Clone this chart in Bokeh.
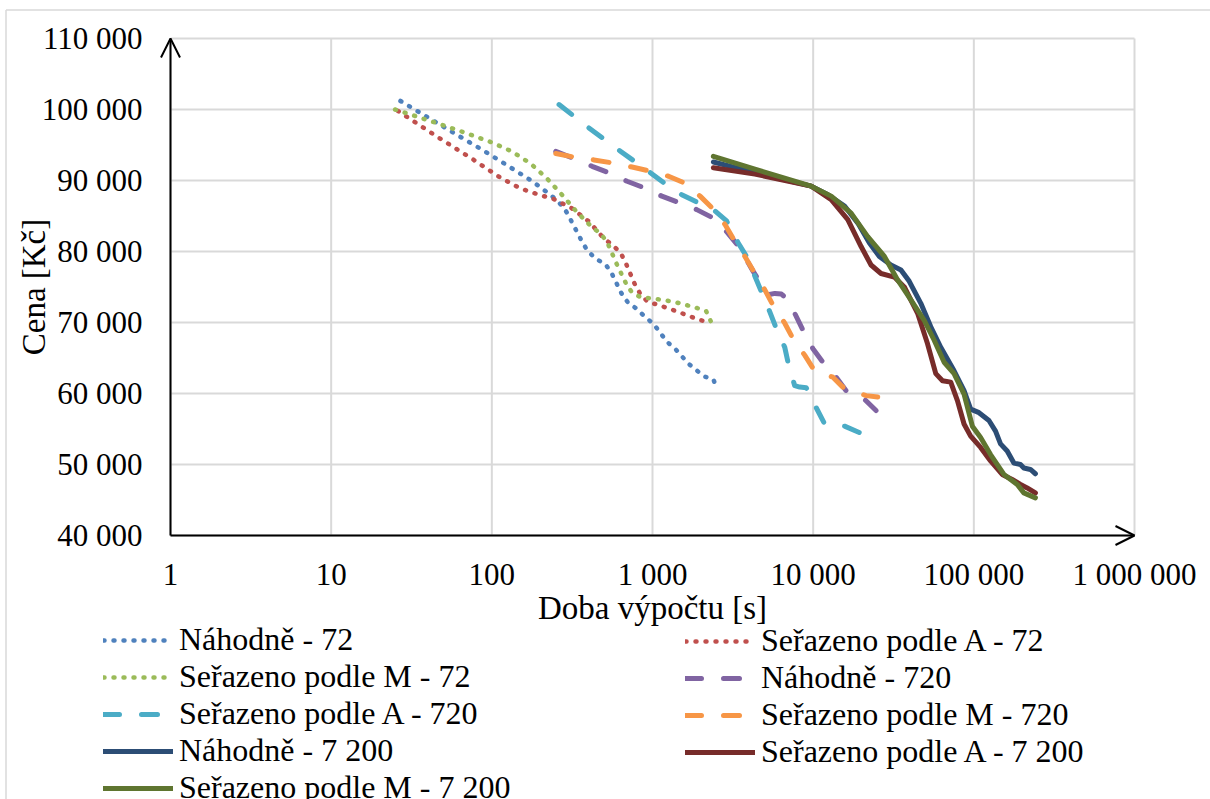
import math
from bokeh.plotting import figure
from bokeh.models import (Range1d, Arrow, OpenHead, Legend, LegendItem)
from bokeh.core.properties import value
from bokeh.embed import file_html
from bokeh.resources import INLINE

FONT = "Liberation Serif"
FS_TICK = "31px"
FS_TITLE = "33px"
FS_LEG = "32px"

# ---------------- data ----------------
x_ticks = [1, 10, 100, 1000, 10000, 100000, 1000000]
x_tick_labels = ["1", "10", "100", "1 000", "10 000", "100 000", "1 000 000"]
y_ticks = [40000, 50000, 60000, 70000, 80000, 90000, 100000, 110000]
y_tick_labels = ["40 000", "50 000", "60 000", "70 000", "80 000", "90 000", "100 000", "110 000"]
x_title = "Doba výpočtu [s]"
y_title = "Cena [Kč]"

labels = ["Náhodně - 72", "Seřazeno podle A - 72", "Seřazeno podle M - 72",
          "Náhodně - 720", "Seřazeno podle A - 720", "Seřazeno podle M - 720",
          "Náhodně - 7 200", "Seřazeno podle A - 7 200", "Seřazeno podle M - 7 200"]

x_nah_72 = [27, 61, 92, 138, 181, 234, 262, 291, 314, 364, 394, 442, 510, 558, 641, 704,
            801, 897, 1016, 1228, 1384, 1674, 2095, 2393, 2523]
y_nah_72 = [101200, 96400, 94000, 91500, 89800, 87900, 86900, 85600, 84200, 81400, 80100,
            79000, 78200, 76900, 74100, 72800, 71900, 70800, 69800, 67300, 66300, 64200,
            62400, 62000, 60500]

x_a_72 = [26, 44, 76, 113, 150, 202, 237, 314, 403, 500, 564, 634, 681, 772, 836, 933,
          1080, 1445, 1940, 2269]
y_a_72 = [99800, 96400, 93000, 90400, 88900, 87900, 87500, 86100, 84200, 81800, 80900,
          79800, 78400, 75500, 74100, 72900, 72500, 71500, 70400, 70000]

x_m_72 = [25, 40, 63, 99, 133, 174, 220, 273, 337, 421, 477, 525, 597, 684, 746, 856,
          1001, 1371, 1858, 2157, 2303]
y_m_72 = [100000, 98500, 97000, 95400, 94100, 92400, 90300, 88000, 85600, 83400, 82500,
          81200, 78300, 75500, 74200, 73500, 73400, 72900, 72100, 71600, 70200]

x_nah_720 = [250, 316, 421, 535, 694, 881, 1143, 1452, 1885, 2393, 2892, 3419, 4234, 5245,
             5772, 6344, 6657, 7678, 8645, 9970, 11500, 13900, 16040, 20850, 24620]
y_nah_720 = [94100, 93200, 92000, 91100, 89900, 89000, 87800, 86900, 85900, 84700, 82800,
             80800, 77200, 73900, 74100, 74000, 73600, 71300, 68900, 66300, 64400, 62300,
             60400, 59200, 57600]

x_a_720 = [262, 402, 625, 969, 1189, 1521, 2450, 2892, 3419, 3849, 4438, 5373, 5906, 6657,
           7049, 7678, 8247, 9064, 10450, 11790, 15680, 19410]
y_a_720 = [100700, 97400, 94200, 91100, 89600, 88000, 85700, 84300, 81200, 79300, 76000,
           71500, 69100, 66500, 63900, 61100, 60900, 60800, 58000, 55700, 55400, 54500]

x_m_720 = [250, 324, 432, 554, 746, 933, 1259, 1597, 1978, 2335, 2827, 3262, 3760, 4337,
           5003, 5636, 6657, 7496, 8856, 10210, 13270, 15300, 21340, 25230]
y_m_720 = [93800, 93300, 92900, 92500, 91900, 91400, 90600, 89600, 87800, 86200, 83800,
           81400, 79300, 76900, 74600, 72400, 69900, 67700, 65400, 63200, 62300, 60900,
           59700, 59500]

x_nah_7200 = [2393, 4337, 9727, 12360, 15680, 18960, 22400, 25830, 30490, 35180, 39640,
              46780, 53960, 62240, 75340, 86920, 95550, 107700, 124200, 136500, 146600,
              161300, 177500, 195100, 204800, 225100, 241700]
y_nah_7200 = [92600, 91100, 89200, 88000, 86400, 84000, 81200, 79300, 78100, 77400, 75800,
              72700, 69400, 66500, 63200, 60400, 57800, 57300, 56200, 54700, 52900, 51900,
              50200, 50000, 49500, 49300, 48700]

x_a_7200 = [2393, 4337, 9727, 12950, 16430, 19880, 22920, 26430, 32000, 36920, 44670,
            51510, 57970, 63800, 71800, 79050, 86920, 95550, 110200, 127100, 150200,
            173300, 195100, 214700, 241700]
y_a_7200 = [91800, 90900, 89200, 87300, 84500, 80700, 78100, 76900, 76400, 75000, 71300,
            67000, 62800, 61800, 61600, 59000, 55700, 54000, 52400, 50500, 48600, 47900,
            47200, 46700, 46000]

x_m_7200 = [2393, 4337, 9727, 12950, 17230, 21860, 27760, 33550, 40580, 49110, 56650,
            65340, 75340, 86920, 97900, 110200, 127100, 153900, 186200, 204800, 241700]
y_m_7200 = [93400, 91600, 89200, 87800, 85400, 82100, 79300, 76000, 73200, 70300, 67500,
            64400, 62800, 59900, 55400, 53800, 51400, 48600, 47200, 46000, 45300]

series_x = [x_nah_72, x_a_72, x_m_72, x_nah_720, x_a_720, x_m_720, x_nah_7200, x_a_7200, x_m_7200]
series_y = [y_nah_72, y_a_72, y_m_72, y_nah_720, y_a_720, y_m_720, y_nah_7200, y_a_7200, y_m_7200]
colors = ["#4F81BD", "#C0504D", "#9BBB59", "#8064A2", "#4BACC6", "#F79646",
          "#2C4D75", "#772C2A", "#5F7530"]
dashes = ["1 9"] * 3 + ["16 22"] * 3 + ["solid"] * 3
widths = [4.5, 4.5, 4.5, 5, 5, 5, 5, 5, 5]

# ---------------- layout (canvas px) ----------------
W, H = 1210, 799
AX_L, AX_R, AX_T, AX_B = 170, 1134, 38, 535      # where the axis box lies on the canvas
BORDER_L, BORDER_T = 5.5, 9.5                    # outer chart border (top/left edges)
decade = (AX_R - AX_L) / math.log10(x_ticks[-1] / x_ticks[0])
py = (AX_B - AX_T) / (y_ticks[-1] - y_ticks[0])
X_LO = x_ticks[0] * 10 ** (-AX_L / decade)
X_HI = x_ticks[-1] * 10 ** ((W - AX_R) / decade)
Y_HI = y_ticks[-1] + AX_T / py
Y_LO = y_ticks[0] - (H - AX_B) / py

p = figure(width=W, height=H, x_axis_type="log",
           x_range=Range1d(X_LO, X_HI), y_range=Range1d(Y_LO, Y_HI),
           x_axis_location=None, y_axis_location=None,
           output_backend="svg", toolbar_location=None,
           min_border=0, min_border_left=0, min_border_right=0,
           min_border_top=0, min_border_bottom=0)
p.outline_line_color = None
p.background_fill_color = "white"
p.border_fill_color = "white"
p.xgrid.visible = False
p.ygrid.visible = False

# outer chart border: only its top and left edges fall inside the picture
bx = X_LO * 10 ** (BORDER_L / decade)
by = Y_HI - BORDER_T / py
p.segment(x0=[bx, bx], y0=[by, by], x1=[X_HI * 2, bx], y1=[by, Y_LO - 5000],
          line_color="#d9d9d9", line_width=1.5)

# grid lines bounded to the axis extent
n_x, n_y = len(x_ticks), len(y_ticks)
p.segment(x0=x_ticks, x1=x_ticks, y0=[y_ticks[0]] * n_x, y1=[y_ticks[-1]] * n_x,
          line_color="#d9d9d9", line_width=2)
p.segment(x0=[x_ticks[0]] * n_y, x1=[x_ticks[-1]] * n_y, y0=y_ticks, y1=y_ticks,
          line_color="#d9d9d9", line_width=2)

renderers = []
for xs, ys, c, d, w in zip(series_x, series_y, colors, dashes, widths):
    r = p.line(xs, ys, line_color=c, line_width=w, line_dash=d,
               line_cap="round", line_join="round")
    renderers.append(r)

# axes with arrow heads
p.add_layout(Arrow(x_start=x_ticks[0], y_start=y_ticks[0], x_end=x_ticks[-1], y_end=y_ticks[0],
                   line_color="black", line_width=2, start=None,
                   end=OpenHead(size=19, line_color="black", line_width=2)))
p.add_layout(Arrow(x_start=x_ticks[0], y_start=y_ticks[0], x_end=x_ticks[0], y_end=y_ticks[-1],
                   line_color="black", line_width=2, start=None,
                   end=OpenHead(size=19, line_color="black", line_width=2)))

# tick labels and axis titles
p.text(x=[x_ticks[0]] * n_y, y=y_ticks, text=y_tick_labels, x_offset=-28,
       text_align="right", text_baseline="middle", text_color="black",
       text_font=value(FONT), text_font_size=value(FS_TICK))
p.text(x=x_ticks, y=[y_ticks[0]] * n_x, text=x_tick_labels, y_offset=39,
       text_align="center", text_baseline="middle", text_color="black",
       text_font=value(FONT), text_font_size=value(FS_TICK))
p.text(x=[math.sqrt(x_ticks[0] * x_ticks[-1])], y=[y_ticks[0]], text=[x_title], y_offset=72,
       text_align="center", text_baseline="middle", text_color="black",
       text_font=value(FONT), text_font_size=value(FS_TITLE))
p.text(x=[x_ticks[0]], y=[(y_ticks[0] + y_ticks[-1]) / 2], text=[y_title], x_offset=-137,
       angle=math.pi / 2, text_align="center", text_baseline="middle", text_color="black",
       text_font=value(FONT), text_font_size=value(FS_TITLE))

ROW = 36
LEG_TOP = 626


def make_legend(idx, left):
    n = len(idx)
    lg = Legend(items=[LegendItem(label=labels[i], renderers=[renderers[i]]) for i in idx],
                location=(left, H - LEG_TOP - n * ROW), orientation="vertical")
    lg.label_text_font = FONT
    lg.label_text_font_size = FS_LEG
    lg.label_text_color = "black"
    lg.glyph_width = 70
    lg.glyph_height = ROW
    lg.label_height = ROW
    lg.spacing = 0
    lg.padding = 0
    lg.margin = 0
    lg.label_standoff = 6
    lg.border_line_color = None
    lg.background_fill_alpha = 0
    return lg


p.add_layout(make_legend([0, 2, 4, 6, 8], 103))
p.add_layout(make_legend([1, 3, 5, 7], 685))

open("out.html", "w").write(file_html(p, INLINE))
